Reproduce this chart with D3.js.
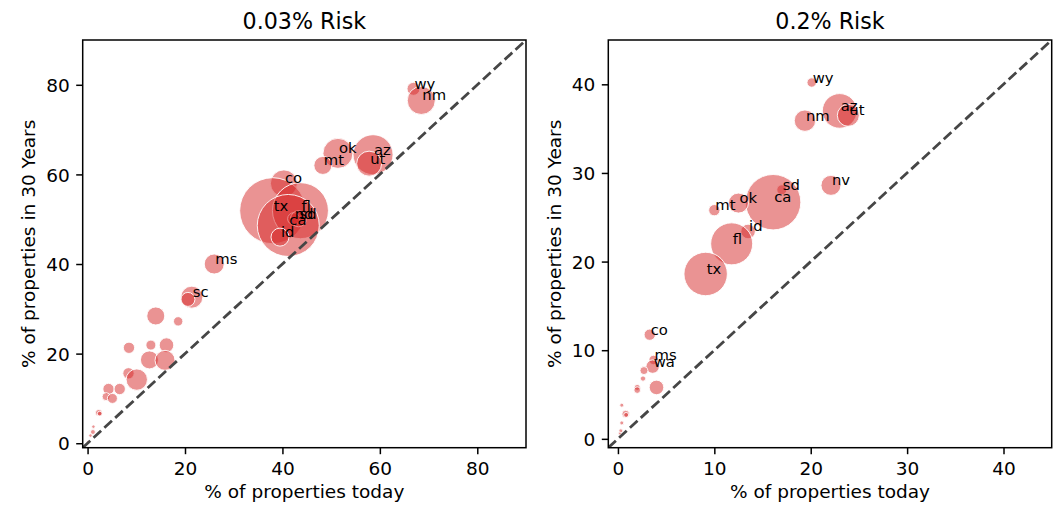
<!DOCTYPE html>
<html>
<head>
<meta charset="utf-8">
<script src="https://cdn.jsdelivr.net/npm/d3@7"></script>
<style>
  body { margin: 0; background: #fff; }
  svg text { font-family: "DejaVu Sans", sans-serif; }
</style>
</head>
<body>
<div id="chart-area"></div>
<script>
// values: [state, % today, % in 30 years, bubble weight]
// label "" = unlabelled bubble
var states_low = ["wy", "nm", "ok", "mt", "az", "ut", "co", "tx", "fl", "nd", "sd", "ca", "id", "ms", "sc",
    "", "", "", "", "", "", "", "", "", "", "", "", "", "", "", "", "", "", "", ""];
var today_low = [66.9, 68.5, 51.4, 48.3, 58.6, 57.8, 40.3, 38.0, 43.7, 42.3, 43.3, 41.2, 39.5, 26.0, 21.4,
    20.6, 14.0, 18.6, 8.5, 13.0, 16.2, 12.7, 15.9, 8.4, 10.1, 4.3, 6.6, 3.8, 5.1, 2.3, 2.5, 1.2, 1.1, 0.6, 0.1];
var future_low = [79.1, 76.5, 64.7, 62.0, 64.4, 62.4, 58.0, 51.9, 51.9, 50.1, 50.1, 48.6, 46.0, 40.0, 32.6,
    32.1, 28.4, 27.2, 21.3, 21.9, 21.9, 18.6, 18.5, 15.6, 14.2, 12.1, 12.1, 10.4, 10.0, 6.8, 6.6, 3.7, 2.5, 1.7, 0.3];
var weight_low = [42, 196, 225, 81, 400, 156, 182, 1089, 784, 36, 64, 961, 81, 100, 121,
    49, 81, 22, 32, 25, 53, 81, 100, 32, 114, 32, 32, 16, 25, 11, 6, 3, 6, 3, 2];

var states_high = ["wy", "az", "ut", "nm", "nv", "sd", "ca", "ok", "mt", "id", "fl", "tx", "co", "ms", "wa",
    "", "", "", "", "", "", "", "", "", "", ""];
var today_high = [20.1, 23.0, 23.9, 19.4, 22.1, 17.0, 16.1, 12.5, 10.0, 13.5, 11.8, 9.1, 3.3, 3.7, 3.6,
    2.7, 2.6, 2.0, 2.0, 4.0, 0.4, 0.8, 0.85, 0.4, 0.3, 0.2];
var future_high = [40.2, 37.0, 36.5, 35.9, 28.6, 28.1, 26.7, 26.6, 25.8, 23.4, 22.0, 18.6, 11.75, 8.9, 8.15,
    7.7, 6.8, 5.8, 5.5, 5.8, 3.8, 2.8, 2.7, 1.8, 0.9, 0.6];
var weight_high = [22, 300, 121, 114, 100, 25, 767, 100, 32, 53, 441, 471, 32, 22, 45,
    16, 7, 9, 11, 53, 4, 14, 6, 4, 4, 2];

var ticks_low = [0, 20, 40, 60, 80];
var ticks_high = [0, 10, 20, 30, 40];

var panels = [
    { title: "0.03% Risk", left: 82.7, right: 526, domain: [-1, 90], ticks: ticks_low,
      states: states_low, today: today_low, future: future_low, weight: weight_low },
    { title: "0.2% Risk", left: 608.3, right: 1051.7, domain: [-1, 45], ticks: ticks_high,
      states: states_high, today: today_high, future: future_high, weight: weight_high }
];

var width = 1054, height = 505;
var top_y = 40, bottom_y = 447.7;

var svg = d3.select("#chart-area")
    .append("svg")
        .attr("width", width)
        .attr("height", height);

var rScale = d3.scaleSqrt().domain([0, 1089]).range([0, 33]);

panels.forEach(function(p, pi) {
    var x = d3.scaleLinear().domain(p.domain).range([p.left, p.right]);
    var y = d3.scaleLinear().domain(p.domain).range([bottom_y, top_y]);

    var clipId = "clip" + pi;
    svg.append("clipPath").attr("id", clipId)
        .append("rect")
            .attr("x", p.left).attr("y", top_y)
            .attr("width", p.right - p.left).attr("height", bottom_y - top_y);

    var g = svg.append("g").attr("clip-path", "url(#" + clipId + ")");

    var pts = p.states.map(function(s, i) {
        return { state: s, today: p.today[i], future: p.future[i], weight: p.weight[i] };
    });

    g.selectAll("circle")
        .data(pts)
        .enter().append("circle")
            .attr("cx", function(d) { return x(d.today); })
            .attr("cy", function(d) { return y(d.future); })
            .attr("r", function(d) { return rScale(d.weight); })
            .attr("fill", "#d62728")
            .attr("fill-opacity", 0.5)
            .attr("stroke", "#fff")
            .attr("stroke-opacity", 0.9)
            .attr("stroke-width", 1);

    // y = x reference line
    g.append("line")
        .attr("x1", x(p.domain[0])).attr("y1", y(p.domain[0]))
        .attr("x2", x(p.domain[1])).attr("y2", y(p.domain[1]))
        .attr("stroke", "#464646")
        .attr("stroke-width", 2.8)
        .attr("stroke-dasharray", "10.3,4.4");

    g.selectAll("text.lbl")
        .data(pts.filter(function(d) { return d.state !== ""; }))
        .enter().append("text")
            .attr("class", "lbl")
            .attr("x", function(d) { return x(d.today) + 1; })
            .attr("y", function(d) { return y(d.future); })
            .attr("font-size", "14.8px")
            .attr("fill", "#000")
            .text(function(d) { return d.state; });

    // axes
    var xAxisCall = d3.axisBottom(x).tickValues(p.ticks).tickSize(6.5).tickPadding(6.5).tickFormat(d3.format("d"));
    var gx = svg.append("g")
        .attr("transform", "translate(0," + bottom_y + ")")
        .call(xAxisCall);
    var yAxisCall = d3.axisLeft(y).tickValues(p.ticks).tickSize(6.5).tickPadding(6.5).tickFormat(d3.format("d"));
    var gy = svg.append("g")
        .attr("transform", "translate(" + p.left + ",0)")
        .call(yAxisCall);
    [gx, gy].forEach(function(a) {
        a.select(".domain").remove();
        a.selectAll(".tick line").attr("stroke", "#000").attr("stroke-width", 1.5);
        a.selectAll(".tick text")
            .attr("font-size", "18.5px")
            .attr("font-family", "DejaVu Sans")
            .attr("fill", "#000");
    });
    gx.selectAll(".tick text").attr("dy", "0.75em");
    gy.selectAll(".tick text").attr("dy", "0.36em");

    // frame
    svg.append("rect")
        .attr("x", p.left).attr("y", top_y)
        .attr("width", p.right - p.left).attr("height", bottom_y - top_y)
        .attr("fill", "none")
        .attr("stroke", "#000")
        .attr("stroke-width", 1.5);

    var cx = (p.left + p.right) / 2;
    svg.append("text")
        .attr("x", cx).attr("y", 29.3)
        .attr("text-anchor", "middle")
        .attr("font-size", "22.2px")
        .text(p.title);

    svg.append("text")
        .attr("x", cx).attr("y", 498)
        .attr("text-anchor", "middle")
        .attr("font-size", "18.5px")
        .text("% of properties today");

    svg.append("text")
        .attr("transform", "translate(" + (p.left - 47.7) + "," + ((top_y + bottom_y) / 2) + ") rotate(-90)")
        .attr("text-anchor", "middle")
        .attr("font-size", "18.5px")
        .text("% of properties in 30 Years");
});
</script>
</body>
</html>
